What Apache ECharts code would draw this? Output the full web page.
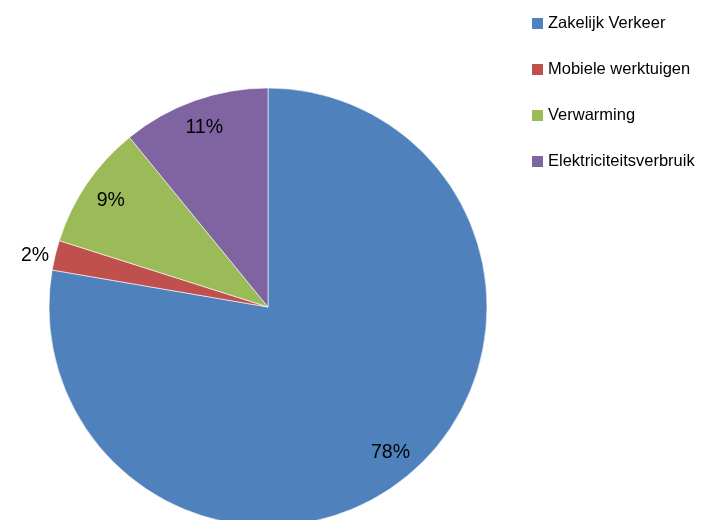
<!DOCTYPE html>
<html>
<head>
<meta charset="utf-8">
<script src="https://cdn.jsdelivr.net/npm/echarts@6/dist/echarts.min.js"></script>
<style>
  html, body { margin: 0; padding: 0; background: #fff; }
  #container { width: 711px; height: 520px; }
</style>
</head>
<body>
<div id="container"></div>
<script>
var categories = ['Zakelijk Verkeer', 'Mobiele werktuigen', 'Verwarming', 'Elektriciteitsverbruik'];
var shares = [77.7, 2.2, 9.2, 10.9];
var colors = ['#4F81BD', '#C0504D', '#9BBB59', '#8064A2'];

var myChart = echarts.init(document.getElementById('container'));

var pieData = categories.map(function (name, i) {
    return { name: name, value: shares[i] };
});
var center = [268, 307];
var fontFam = '"Liberation Sans", Arial, sans-serif';

var option = {
    animation: false,
    color: colors,
    legend: {
        orient: 'vertical',
        left: 527,
        top: 10,
        icon: 'rect',
        itemWidth: 11,
        itemHeight: 11,
        itemGap: 29,
        itemStyle: { borderWidth: 0 },
        textStyle: { fontFamily: fontFam, fontSize: 16.5, color: '#000', lineHeight: 17 },
        data: categories
    },
    series: [
        {
            type: 'pie',
            center: center,
            radius: [0, 219],
            startAngle: 90,
            clockwise: true,
            itemStyle: { borderColor: '#fff', borderWidth: 0.6 },
            label: {
                show: true,
                position: 'outside',
                fontFamily: fontFam,
                fontSize: 19.5,
                color: '#000',
                formatter: function (p) {
                    return p.value < 5 ? Math.round(p.value) + '%' : '';
                }
            },
            labelLine: { show: false, length: 0, length2: 1 },
            emphasis: { disabled: true },
            data: pieData
        },
        {
            type: 'pie',
            center: center,
            radius: [0, 374],
            startAngle: 90,
            clockwise: true,
            silent: true,
            itemStyle: { color: 'transparent', borderWidth: 0 },
            label: {
                show: true,
                position: 'inside',
                fontFamily: fontFam,
                fontSize: 19.5,
                color: '#000',
                formatter: function (p) {
                    return p.value < 5 ? '' : Math.round(p.value) + '%';
                }
            },
            labelLine: { show: false },
            emphasis: { disabled: true },
            data: pieData
        }
    ]
};

myChart.setOption(option, true);
window.onresize = function () {
    myChart.resize();
};
</script>
</body>
</html>
